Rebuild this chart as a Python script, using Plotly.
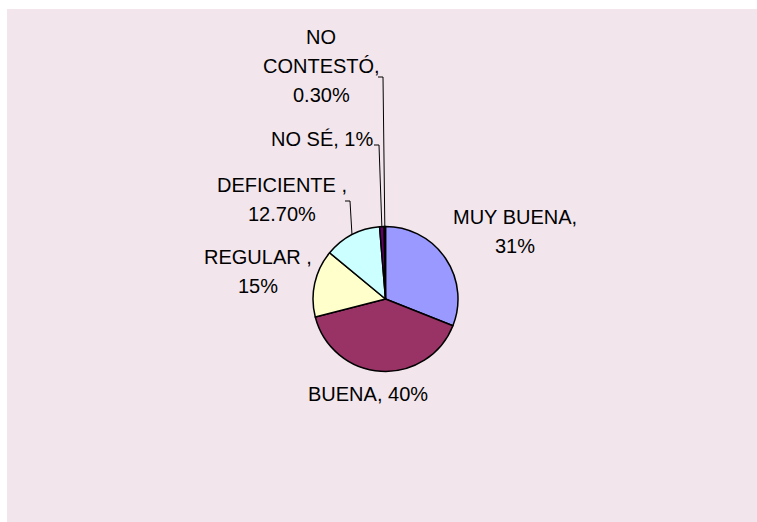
import math
import plotly.graph_objects as go

categories = ["MUY BUENA", "BUENA", "REGULAR", "DEFICIENTE", "NO SÉ", "NO CONTESTÓ"]
values = [31, 40, 15, 12.7, 1, 0.3]
label_lines = [["MUY BUENA,", "31%"], ["BUENA, 40%"], ["REGULAR ,", "15%"],
               ["DEFICIENTE ,", "12.70%"], ["NO SÉ, 1%"], ["NO", "CONTESTÓ,", "0.30%"]]
colors = ["#9999FF", "#993366", "#FFFFCC", "#CCFFFF", "#660066", "#FF8080"]

W, H = 757, 522
CX, CY, R = 385.5, 299, 72.5

def px(x):
    return x / W

def py(y):
    return 1 - y / H

fig = go.Figure(go.Pie(
    labels=categories, values=values, sort=False, direction="clockwise", rotation=0,
    marker=dict(colors=colors, line=dict(color="black", width=1.5)),
    textinfo="none", hoverinfo="label+percent", showlegend=False,
    domain=dict(x=[px(CX - R), px(CX + R)], y=[py(CY + R), py(CY - R)]),
))

# label centre of first line (pixels) and line step
label_pos = [(515, 217), (368, 394), (258, 257), (282, 185), (322, 139), (321, 37)]
LINE_STEP = 29
annotations = []
for lines, (x, y) in zip(label_lines, label_pos):
    for k, t in enumerate(lines):
        annotations.append(dict(x=px(x), y=py(y + k * LINE_STEP), xref="paper", yref="paper",
                                text=t, showarrow=False, xanchor="center", yanchor="middle",
                                font=dict(family="Liberation Sans, Arial", size=20, color="black")))

# slice mid-angles for leader lines
total = sum(values)
cum = 0
mids = []
for v in values:
    mids.append((cum + v / 2) / total * 2 * math.pi)
    cum += v

def edge(i):
    a = mids[i]
    return CX + R * math.sin(a), CY - R * math.cos(a)

shapes = [dict(type="rect", xref="paper", yref="paper", x0=px(7), x1=1, y0=0, y1=py(9),
               fillcolor="#F2E6EC", line=dict(width=0), layer="below")]
leaders = {3: [(345, 201), (350, 201)], 4: [(374, 145), (379, 145)], 5: [(378, 77), (383, 77)]}
for i, pts in leaders.items():
    ex, ey = edge(i)
    path_pts = pts + [(ex, ey)]
    d = "M " + " L ".join(f"{px(x)},{py(y)}" for x, y in path_pts)
    shapes.append(dict(type="path", xref="paper", yref="paper", path=d,
                       line=dict(color="black", width=1)))

fig.update_layout(width=W, height=H, margin=dict(l=0, r=0, t=0, b=0),
                  paper_bgcolor="white", plot_bgcolor="white",
                  annotations=annotations, shapes=shapes)
fig.write_html("out.html", config={"displayModeBar": False},
               post_script="document.body.style.margin='0';"
                           "document.documentElement.style.overflow='hidden';")
